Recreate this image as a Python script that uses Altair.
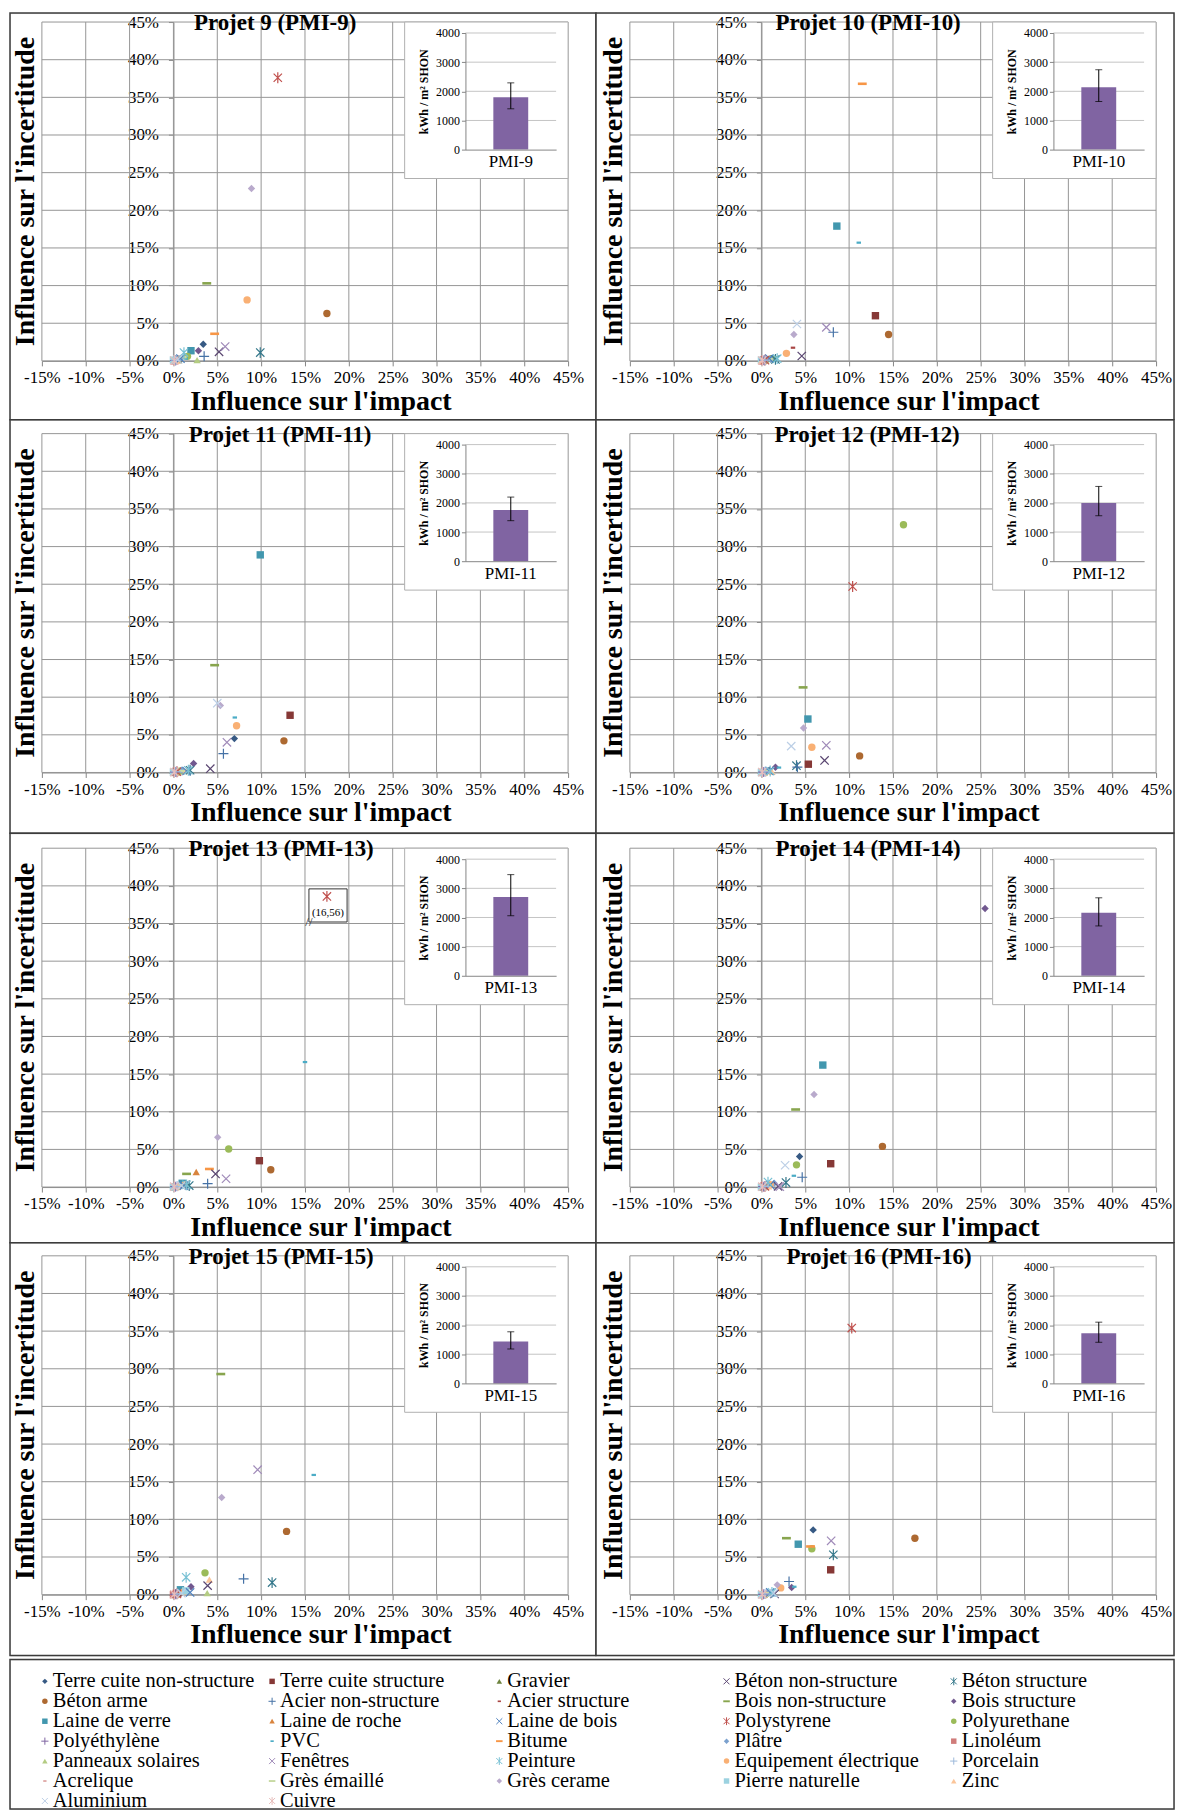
import altair as alt
import pandas as pd

SERIF = "Liberation Serif"

MATERIALS = [
    "Terre cuite non-structure", "Terre cuite structure", "Gravier", "Béton non-structure", "Béton structure",
    "Béton arme", "Acier non-structure", "Acier structure", "Bois non-structure", "Bois structure",
    "Laine de verre", "Laine de roche", "Laine de bois", "Polystyrene", "Polyurethane",
    "Polyéthylène", "PVC", "Bitume", "Plâtre", "Linoléum",
    "Panneaux solaires", "Fenêtres", "Peinture", "Equipement électrique", "Porcelain",
    "Acrelique", "Grès émaillé", "Grès cerame", "Pierre naturelle", "Zinc",
    "Aluminium", "Cuivre"]

PROJECT_TITLES = ["Projet 9 (PMI-9)", "Projet 10 (PMI-10)", "Projet 11 (PMI-11)", "Projet 12 (PMI-12)",
                  "Projet 13 (PMI-13)", "Projet 14 (PMI-14)", "Projet 15 (PMI-15)", "Projet 16 (PMI-16)"]
PMI = ["PMI-9", "PMI-10", "PMI-11", "PMI-12", "PMI-13", "PMI-14", "PMI-15", "PMI-16"]

# Influence sur l'impact (%) / Influence sur l'incertitude (%), one value per material
IMPACT_9 = [3.4, 0.5, 0.6, 5.2, 9.9, 17.5, 3.5, 0.4, 3.8, 2.85, 2.0, 0.3, 0.8, 11.9, 1.6, 0.2, 1.4, 4.7, 0.9, 0.1, 2.7, 5.9, 1.2, 8.4, 0.3, 0.2, 1.0, 8.9, 0.0, 0.4, 0.5, 0.1]
UNCERT_9 = [2.2, 0.2, 0.1, 1.2, 1.1, 6.3, 0.6, 0.1, 10.3, 1.35, 1.35, 0.05, 0.3, 37.6, 0.6, 0.05, 0.3, 3.6, 0.4, 0.0, 0.1, 1.9, 1.1, 8.1, 0.1, 0.05, 0.5, 22.9, 0.1, 0.0, 0.2, 0.05]
IMPACT_10 = [1.0, 13.0, 0.3, 4.6, 1.6, 14.5, 8.2, 3.6, 1.35, 0.7, 8.6, 0.2, 0.9, 0.4, 1.2, 0.3, 11.1, 11.5, 1.05, 0.1, 0.5, 7.4, 1.8, 2.85, 0.4, 0.2, 0.8, 3.7, 0.0, 0.0, 4.05, 0.1]
UNCERT_10 = [0.3, 6.0, 0.05, 0.65, 0.2, 3.5, 3.8, 1.75, 0.45, 0.2, 17.9, 0.05, 0.3, 0.1, 0.3, 0.1, 15.7, 36.8, 0.2, 0.0, 0.1, 4.45, 0.3, 1.0, 0.1, 0.05, 0.2, 3.5, 0.1, 0.0, 4.9, 0.05]
IMPACT_11 = [6.95, 13.3, 0.3, 4.2, 1.9, 12.6, 5.7, 0.5, 4.7, 2.3, 9.9, 0.3, 1.5, 0.4, 0.8, 0.2, 7.0, 0.6, 0.95, 0.1, 0.3, 6.1, 1.7, 7.2, 0.3, 0.2, 1.0, 5.35, 0.0, 1.45, 5.0, 0.1]
UNCERT_11 = [4.5, 7.6, 0.0, 0.5, 0.3, 4.2, 2.5, 0.1, 14.25, 1.2, 28.9, 0.05, 0.2, 0.1, 0.2, 0.05, 7.3, 0.15, 0.3, 0.0, 0.0, 4.0, 0.3, 6.2, 0.1, 0.05, 0.2, 8.9, 0.05, 0.2, 9.2, 0.05]
IMPACT_12 = [0.9, 5.35, 0.3, 7.2, 4.0, 11.2, 4.1, 0.5, 4.75, 1.6, 5.3, 0.3, 0.9, 10.4, 16.2, 0.2, 2.0, 0.6, 0.7, 0.1, 0.3, 7.4, 1.0, 5.75, 0.4, 0.2, 0.6, 4.8, 0.0, 1.2, 3.4, 0.1]
UNCERT_12 = [0.3, 1.1, 0.05, 1.6, 0.9, 2.2, 0.7, 0.1, 11.3, 0.7, 7.1, 0.05, 0.2, 24.7, 32.9, 0.05, 0.65, 0.15, 0.2, 0.0, 0.0, 3.6, 0.2, 3.35, 0.1, 0.05, 0.2, 5.9, 0.0, 0.1, 3.5, 0.05]
IMPACT_13 = [0.8, 9.8, 0.3, 4.8, 1.8, 11.1, 3.9, 0.5, 1.5, 0.9, 1.0, 2.6, 1.2, 17.5, 6.3, 0.2, 15.0, 4.1, 0.6, 0.1, 0.3, 6.0, 1.5, 1.3, 0.4, 0.2, 0.7, 5.05, 0.0, 0.5, 0.9, 0.1]
UNCERT_13 = [0.3, 3.5, 0.05, 1.75, 0.2, 2.3, 0.45, 0.1, 1.75, 0.3, 0.5, 2.0, 0.2, 38.6, 5.05, 0.05, 16.6, 2.4, 0.2, 0.0, 0.0, 1.1, 0.3, 0.3, 0.1, 0.05, 0.2, 6.6, 0.0, 0.1, 0.2, 0.05]
IMPACT_14 = [4.35, 7.9, 0.3, 1.9, 2.8, 13.8, 4.65, 0.5, 3.9, 25.5, 7.0, 0.3, 1.0, 0.4, 4.0, 0.2, 3.7, 0.6, 1.45, 0.1, 0.3, 2.1, 0.75, 1.0, 0.4, 0.2, 0.7, 6.0, 0.0, 0.8, 2.7, 0.1]
UNCERT_14 = [4.05, 3.1, 0.05, 0.1, 0.6, 5.4, 1.3, 0.1, 10.3, 37.0, 16.2, 0.05, 0.3, 0.1, 2.95, 0.05, 1.5, 0.15, 0.5, 0.0, 0.0, 0.05, 0.66, 0.3, 0.1, 0.05, 0.2, 12.3, 0.0, 0.1, 2.9, 0.05]
IMPACT_15 = [0.8, 0.5, 0.3, 3.9, 11.25, 12.9, 8.0, 0.5, 5.4, 2.0, 0.8, 0.3, 1.9, 0.4, 3.6, 0.2, 16.0, 0.6, 0.6, 0.0, 3.85, 9.6, 1.45, 1.2, 0.4, 0.2, 0.7, 5.5, 1.4, 4.1, 0.9, 0.1]
UNCERT_15 = [0.3, 0.2, 0.05, 1.2, 1.6, 8.4, 2.1, 0.1, 29.3, 1.05, 0.65, 0.05, 0.3, 0.1, 2.9, 0.05, 15.9, 0.15, 0.2, 0.0, 0.2, 16.6, 2.3, 0.4, 0.1, 0.05, 0.2, 12.9, 0.5, 2.0, 0.2, 0.05]
IMPACT_16 = [5.9, 7.9, 0.3, 1.5, 8.2, 17.5, 3.15, 0.5, 2.85, 3.45, 4.2, 0.3, 1.0, 10.3, 5.75, 0.2, 3.75, 5.6, 0.6, 0.1, 0.3, 7.95, 1.2, 2.2, 0.4, 0.2, 0.9, 1.8, 0.0, 0.5, 1.4, 0.1]
UNCERT_16 = [8.6, 3.3, 0.05, 0.1, 5.3, 7.5, 1.75, 0.1, 7.5, 0.95, 6.7, 0.05, 0.3, 35.4, 6.1, 0.05, 1.05, 6.4, 0.2, 0.0, 0.0, 7.15, 0.3, 0.9, 0.1, 0.05, 0.2, 1.3, 0.0, 0.1, 0.2, 0.05]

IMPACTS = [IMPACT_9, IMPACT_10, IMPACT_11, IMPACT_12, IMPACT_13, IMPACT_14, IMPACT_15, IMPACT_16]
UNCERTS = [UNCERT_9, UNCERT_10, UNCERT_11, UNCERT_12, UNCERT_13, UNCERT_14, UNCERT_15, UNCERT_16]

# inset bar charts (kWh / m² SHON)
BAR_MEAN = [1800, 2140, 1760, 2000, 2700, 2160, 1440, 1720]
BAR_LOW = [1400, 1650, 1390, 1560, 2060, 1710, 1180, 1410]
BAR_HIGH = [2290, 2740, 2200, 2565, 3470, 2675, 1770, 2100]

# Projet 13: off-scale point annotation
ANNOT_LABEL = ["(16,56)"]
ANNOT_X = [15.45]
ANNOT_X2 = [19.8]
ANNOT_Y = [35.2]
ANNOT_Y2 = [39.6]

X_TICKS = [-15, -10, -5, 0, 5, 10, 15, 20, 25, 30, 35, 40, 45]
Y_TICKS = [0, 5, 10, 15, 20, 25, 30, 35, 40, 45]
INSET_TICKS = [0, 1000, 2000, 3000, 4000]

# ---------------- styles ----------------
COLORS = [
    '#375A84', '#863836', '#6D833E', '#5A4671', '#35788B', '#AD6931',
    '#4672A6', '#A94644', '#88A54E', '#71588F', '#4297AE', '#D9843E',
    '#4F81BD', '#C0504D', '#9BBB59', '#8064A2', '#4BACC6', '#F79646',
    '#7BA1CE', '#D07C7A', '#B4CC83', '#A08BB9', '#78C1D4', '#F9B074',
    '#9EBADB', '#DC9F9D', '#C8DAA4', '#B9AACC', '#9CD2E0', '#FBC599',
    '#BCCFE6', '#E7BDBB']
MARKER_CYCLE = ['diamond', 'square', 'triangle', 'x', 'star', 'circle', 'plus', 'sdash', 'ldash']
SHAPE_PATH = {
    'diamond': 'diamond', 'square': 'square', 'triangle': 'triangle-up', 'circle': 'circle',
    'x': 'M-1,-1L1,1M-1,1L1,-1',
    'star': 'M-1,-1L1,1M-1,1L1,-1M0,-1.3L0,1.3',
    'plus': 'M-1.2,0L1.2,0M0,-1.2L0,1.2',
    'sdash': 'M-0.6,-0.3L0.6,-0.3L0.6,0.3L-0.6,0.3Z',
    'ldash': 'M-1.2,-0.35L1.2,-0.35L1.2,0.35L-1.2,0.35Z',
}
STROKED = {'x', 'star', 'plus'}
MARKERS = [MARKER_CYCLE[i % 9] for i in range(len(MATERIALS))]
IS_STROKED = [m in STROKED for m in MARKERS]

CS = alt.Scale(domain=MATERIALS, range=COLORS)
SS = alt.Scale(domain=MATERIALS, range=[SHAPE_PATH[m] for m in MARKERS])

GRID = '#969696'
AXIS_C = '#868686'
FRAME = '#3c3c3c'

COL_W = [588, 580]
PLOT_L = [32, 34]
PLOT_W = 528
ROW_H = [408, 415, 411, 414]
PLOT_T = [9, 14, 15, 13]
PLOT_H = 340
TITLE_CX = [266, 273, 271, 272, 272, 273, 272, 284]
LEG_W, LEG_H = 1168, 150

ONE = pd.DataFrame({'a': [0]})


def text_layer(txt, x, y, size, bold=False, angle=0, align='center'):
    kw = dict(font=SERIF, fontSize=size, fontWeight='bold' if bold else 'normal',
              align=align, baseline='middle', color='black')
    if angle:
        kw['angle'] = angle
    return alt.Chart(pd.DataFrame({'t': [txt]})).mark_text(**kw).encode(
        x=alt.value(x), y=alt.value(y), text='t:N')


def border(W, H):
    return alt.Chart(ONE).mark_rect(fill='transparent', stroke=FRAME, strokeWidth=1.5).encode(
        x=alt.value(0), x2=alt.value(W), y=alt.value(0), y2=alt.value(H))


def panel(k):
    r, c = divmod(k, 2)
    W, H = COL_W[c], ROW_H[r]
    pl, pt = PLOT_L[c], PLOT_T[r]
    pr, pb = pl + PLOT_W, pt + PLOT_H
    x0pix = pl + PLOT_W * 15 / 60
    XS = alt.Scale(domain=[-15, 45], range=[pl, pr], nice=False, zero=False)
    YS = alt.Scale(domain=[0, 45], range=[pb, pt], nice=False, zero=False)

    vg = pd.DataFrame({'x': X_TICKS, 'y0': 0, 'y1': 45})
    hg = pd.DataFrame({'y': Y_TICKS, 'x0': -15, 'x1': 45})
    vgrid = alt.Chart(vg).mark_rule(color=GRID, strokeWidth=1).encode(
        x=alt.X('x:Q', scale=XS, axis=alt.Axis(
            orient='bottom', offset=-(H - pb), values=X_TICKS, labelExpr="datum.value + '%'",
            labelFont=SERIF, labelFontSize=17, labelColor='black', labelFlush=False,
            labelOverlap=False, tickSize=5, tickColor=AXIS_C, domainColor=AXIS_C,
            labelPadding=4, grid=False, title=None)),
        y=alt.Y('y0:Q', scale=YS, axis=None), y2='y1:Q')
    hgrid = alt.Chart(hg).mark_rule(color=GRID, strokeWidth=1).encode(
        y=alt.Y('y:Q', scale=YS, axis=alt.Axis(
            orient='left', offset=-x0pix, values=Y_TICKS, labelExpr="datum.value + '%'",
            labelFont=SERIF, labelFontSize=17, labelColor='black', labelFlush=False,
            labelOverlap=False, tickSize=5, tickColor=AXIS_C, domainColor=AXIS_C,
            labelPadding=10, grid=False, title=None)),
        x=alt.X('x0:Q', scale=XS, axis=None), x2='x1:Q')

    layers = [vgrid, hgrid]

    if k == 4:
        adf = pd.DataFrame({'x': ANNOT_X, 'x2': ANNOT_X2, 'y': ANNOT_Y, 'y2': ANNOT_Y2, 't': ANNOT_LABEL})
        layers.append(alt.Chart(adf).mark_rect(fill='white', stroke='#333333', strokeWidth=1).encode(
            x=alt.X('x:Q', scale=XS, axis=None), x2='x2:Q',
            y=alt.Y('y:Q', scale=YS, axis=None), y2='y2:Q'))
        layers.append(alt.Chart(adf).mark_text(font=SERIF, fontSize=11, baseline='middle', dy=24,
                                               dx=19, color='black').encode(
            x=alt.X('x:Q', scale=XS, axis=None), y=alt.Y('y2:Q', scale=YS, axis=None), text='t:N'))
        layers.append(alt.Chart(adf).mark_text(font=SERIF, fontSize=13, baseline='middle',
                                               color='#333333', text='//').encode(
            x=alt.X('x:Q', scale=XS, axis=None), y=alt.Y('y:Q', scale=YS, axis=None)))

    df = pd.DataFrame({'material': MATERIALS, 'impact': IMPACTS[k], 'uncert': UNCERTS[k],
                       'stroked': IS_STROKED})
    enc = dict(
        x=alt.X('impact:Q', scale=XS, axis=None),
        y=alt.Y('uncert:Q', scale=YS, axis=None),
        color=alt.Color('material:N', scale=CS, legend=None),
        shape=alt.Shape('material:N', scale=SS, legend=None))
    layers.append(alt.Chart(df[~df.stroked]).mark_point(filled=True, opacity=1, size=55).encode(**enc))
    layers.append(alt.Chart(df[df.stroked]).mark_point(filled=False, opacity=1, size=70,
                                                       strokeWidth=1.2).encode(**enc))

    # inset
    ix0, ix1 = pr - 103, pr - 12
    iy0, iy1 = pt + 128, pt + 11
    IXS = alt.Scale(domain=[PMI[k]], range=[ix0, ix1], paddingInner=0.5, paddingOuter=0.4)
    IYS = alt.Scale(domain=[0, 4000], range=[iy0, iy1], nice=False)
    layers.append(alt.Chart(ONE).mark_rect(fill='white', stroke='#b0b0b0', strokeWidth=1).encode(
        x=alt.value(pr - 164), x2=alt.value(pr), y=alt.value(pt), y2=alt.value(pt + 157)))
    ig = pd.DataFrame({'v': INSET_TICKS[1:]})
    layers.append(alt.Chart(ig).mark_rule(color='#c4c4c4', strokeWidth=1).encode(
        y=alt.Y('v:Q', scale=IYS, axis=None), x=alt.value(ix0), x2=alt.value(ix1)))
    bdf = pd.DataFrame({'p': [PMI[k]], 'm': [BAR_MEAN[k]], 'lo': [BAR_LOW[k]], 'hi': [BAR_HIGH[k]]})
    layers.append(alt.Chart(bdf).mark_bar(color='#8064A2').encode(
        x=alt.X('p:N', scale=IXS, axis=alt.Axis(
            orient='bottom', offset=-(H - iy0), labelFont=SERIF, labelFontSize=17, labelColor='black',
            labelAngle=0, ticks=False, domainColor=AXIS_C, labelPadding=4, title=None, zindex=2)),
        y=alt.Y('m:Q', scale=IYS, axis=alt.Axis(
            orient='left', offset=-ix0, values=INSET_TICKS, format='d', labelFont=SERIF,
            labelFontSize=12, labelColor='black', tickSize=4, tickColor=AXIS_C, domainColor=AXIS_C,
            labelPadding=2, grid=False, title=None, zindex=2))))
    layers.append(alt.Chart(bdf).mark_rule(color='black', strokeWidth=1).encode(
        x=alt.X('p:N', scale=IXS, axis=None),
        y=alt.Y('lo:Q', scale=IYS, axis=None), y2='hi:Q'))
    cdf = pd.DataFrame({'p': [PMI[k], PMI[k]], 'v': [BAR_LOW[k], BAR_HIGH[k]]})
    layers.append(alt.Chart(cdf).mark_tick(orient='horizontal', color='black', size=7, thickness=1).encode(
        x=alt.X('p:N', scale=IXS, axis=None),
        y=alt.Y('v:Q', scale=IYS, axis=None)))
    layers.append(text_layer("kWh / m² SHON", ix0 - 42, pt + 70, 12, bold=True, angle=270))

    # titles
    layers.append(text_layer(PROJECT_TITLES[k], TITLE_CX[k], pt + 1, 23, bold=True))
    layers.append(text_layer("Influence sur l'impact", pl + PLOT_W / 2 + 16, pb + 41, 28, bold=True))
    layers.append(text_layer("Influence sur l'incertitude", pl - 16, pt + PLOT_H / 2, 28, bold=True, angle=270))
    layers.append(border(W, H))

    return alt.layer(*layers).resolve_scale(x='independent', y='independent').properties(width=W, height=H)


def legend_chart():
    n = len(MATERIALS)
    ldf = pd.DataFrame({'material': MATERIALS, 'col': [i % 5 for i in range(n)],
                        'row': [i // 5 for i in range(n)], 'stroked': IS_STROKED})
    LX = alt.Scale(domain=[0, 4], range=[35, 947], nice=False, zero=False)
    LY = alt.Scale(domain=[0, 6], range=[22, 142], nice=False, zero=False)
    enc = dict(
        x=alt.X('col:Q', scale=LX, axis=None),
        y=alt.Y('row:Q', scale=LY, axis=None),
        color=alt.Color('material:N', scale=CS, legend=None),
        shape=alt.Shape('material:N', scale=SS, legend=None))
    f = alt.Chart(ldf[~ldf.stroked]).mark_point(filled=True, opacity=1, size=30).encode(**enc)
    s = alt.Chart(ldf[ldf.stroked]).mark_point(filled=False, opacity=1, size=36, strokeWidth=1).encode(**enc)
    t = alt.Chart(ldf).mark_text(align='left', baseline='middle', dx=8, font=SERIF, fontSize=20.5,
                                 color='black').encode(
        x=alt.X('col:Q', scale=LX, axis=None), y=alt.Y('row:Q', scale=LY, axis=None), text='material:N')
    return alt.layer(f, s, t, border(LEG_W, LEG_H)).properties(width=LEG_W, height=LEG_H)


grid = alt.concat(*[panel(k) for k in range(8)], columns=2, spacing=0, bounds='flush')
chart = alt.vconcat(grid, legend_chart(), spacing=0).properties(
    padding=0).configure_view(stroke=None).configure(font=SERIF)

chart.save("out.html", embed_options={"renderer": "svg", "actions": False})
